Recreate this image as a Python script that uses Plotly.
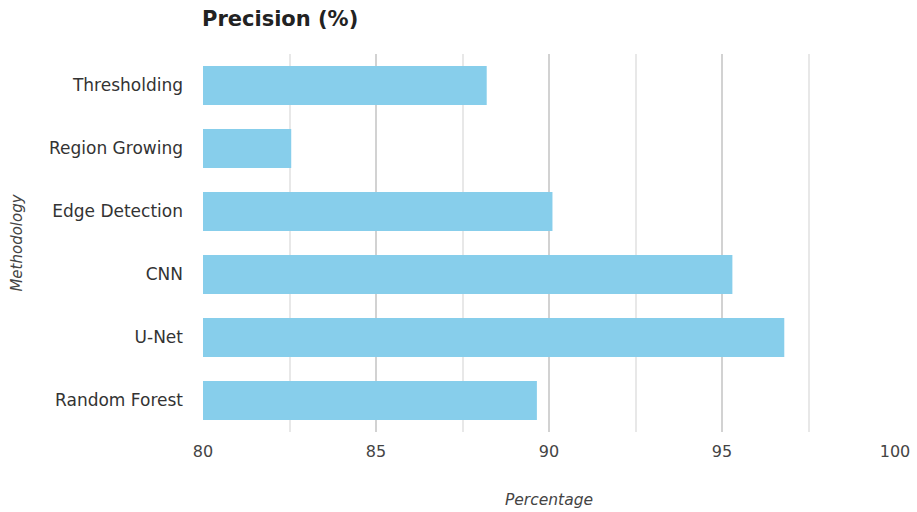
import plotly.graph_objects as go

methods = ["Thresholding", "Region Growing", "Edge Detection", "CNN", "U-Net", "Random Forest"]
precision = [88.2, 82.55, 90.1, 95.3, 96.8, 89.65]
x_ticks = [80, 85, 90, 95, 100]
axis_min = 80

fig = go.Figure(go.Bar(
    x=[v - axis_min for v in precision], y=methods, orientation="h",
    base=axis_min,
    marker=dict(color="#87CEEB", line=dict(width=0)),
))

FONT = "DejaVu Sans, Verdana, sans-serif"
fig.update_layout(
    width=917, height=512,
    margin=dict(l=203, r=22, t=54, b=80, autoexpand=False),
    plot_bgcolor="white", paper_bgcolor="white",
    bargap=0.38,
    font=dict(family=FONT, color="#444", size=15),
    title=dict(text="<b>Precision (%)</b>", x=202/917, xanchor="left", y=1-19/512, yanchor="middle",
               font=dict(size=21, color="#222", family=FONT)),
    showlegend=False,
)
fig.update_xaxes(
    range=[80, 100], tickvals=x_ticks, showgrid=True, gridcolor="#d2d2d2", gridwidth=2,
    zeroline=False, showline=False, automargin=False,
    ticks="", ticklabelstandoff=8,
    minor=dict(dtick=2.5, tick0=80, showgrid=True, gridcolor="#e8e8e8", gridwidth=1.5),
    title=dict(text="<i>Percentage</i>", font=dict(size=15.5, color="#444", family=FONT), standoff=34),
    tickfont=dict(size=16, color="#444"),
)
fig.update_yaxes(
    categoryorder="array", categoryarray=methods[::-1],
    showgrid=False, zeroline=False, showline=False, automargin=False,
    ticks="", ticklabelstandoff=19,
    title=dict(text="<i>Methodology</i>", font=dict(size=15, color="#444", family=FONT), standoff=22),
    tickfont=dict(size=17, color="#333"),
)
fig.write_html("out.html")
